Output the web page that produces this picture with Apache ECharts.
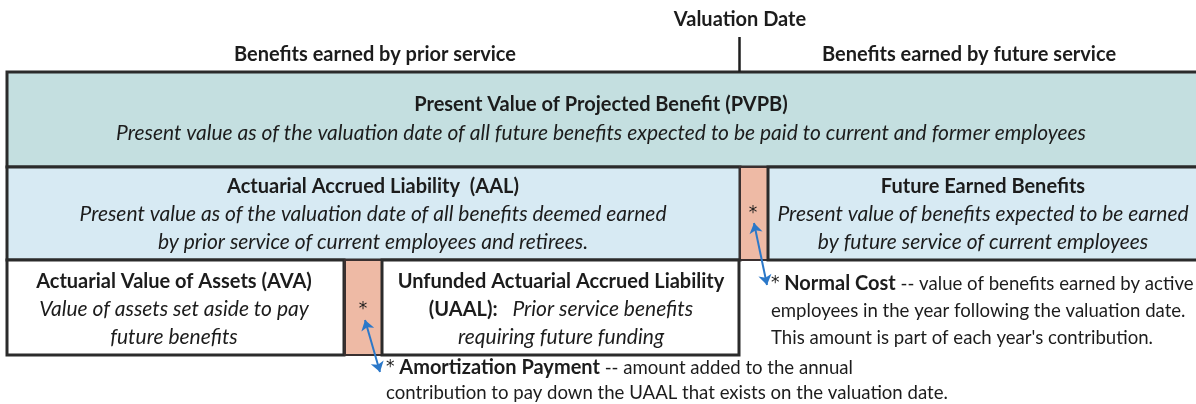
<!DOCTYPE html>
<html>
<head>
<meta charset="utf-8">
<script src="https://cdn.jsdelivr.net/npm/echarts@6/dist/echarts.min.js"></script>
<style>
  html, body { margin: 0; padding: 0; background: #fff; }
  #chart { width: 1196px; height: 404px; }
</style>
</head>
<body>
<div id="chart"></div>
<script>
// text of the diagram, one entry per line
const headerLines = ['Valuation Date', 'Benefits earned by prior service', 'Benefits earned by future service']
const pvpbLines = ['{b|Present Value of Projected Benefit (PVPB)}',
    '{i|Present value as of the valuation date of all future benefits expected to be paid to current and former employees}']
const aalLines = ['{b|Actuarial Accrued Liability  (AAL)}',
    '{i|Present value as of the valuation date of all benefits deemed earned}',
    '{i|by prior service of current employees and retirees.}']
const futureLines = ['{b|Future Earned Benefits}',
    '{i|Present value of benefits expected to be earned}',
    '{i|by future service of current employees}']
const avaLines = ['{b|Actuarial Value of Assets (AVA)}',
    '{i|Value of assets set aside to pay}',
    '{i|future benefits}']
const uaalLines = ['{b|Unfunded Actuarial Accrued Liability}',
    '{b|(UAAL):}{i|   Prior service benefits}',
    '{i|requiring future funding}']
const normalCostLines = ['{s|*}{r| }{b|Normal Cost}{r| -- value of benefits earned by active}',
    '{r|employees in the year following the valuation date.}',
    '{r|This amount is part of each year\'s contribution.}']
const amortLines = ['{s|*}{r| }{b|Amortization Payment}{r| -- amount added to the annual}',
    '{r|contribution to pay down the UAAL that exists on the valuation date.}']
const starMarks = ['{s|*}', '{s|*}']

// layout (plot units = pixels of the 1196 x 404 canvas)
const boxes = [
    // x0, y0, x1, y1, kind
    [7, 72, 1204, 167, 0],
    [7, 167, 740, 260, 1],
    [740, 167, 768, 260, 2],
    [768, 167, 1204, 260, 1],
    [7, 260, 344, 355, 3],
    [345, 260, 382, 355, 2],
    [382, 260, 739, 355, 3]
]
const boxFill = ['#c4dfe0', '#d7eaf3', '#eebaa5', '#ffffff']

const textRows = []
function place(lines, x, y0, step, align) {
    lines.forEach(function (s, i) { textRows.push({ s: s, x: x, y: y0 + i * step, align: align }) })
}
place(['{b|' + headerLines[0] + '}'], 740, 20, 0, 'center')
place(['{b|' + headerLines[1] + '}'], 375, 55, 0, 'center')
place(['{b|' + headerLines[2] + '}'], 969, 55, 0, 'center')
place(pvpbLines, 601, 105, 28, 'center')
place(aalLines, 373, 187, 27.5, 'center')
place(futureLines, 983, 187, 27.5, 'center')
place([starMarks[0]], 753, 214, 0, 'center')
place(avaLines, 174, 282, 27.5, 'center')
place([starMarks[1]], 363, 310, 0, 'center')
place(uaalLines, 561, 282, 27.5, 'center')
place(normalCostLines, 771, 284, 27, 'left')
place(amortLines, 386, 368, 25, 'left')

const arrows = [
    [[754, 223], [767, 285]],
    [[365, 320], [380, 372]]
]
const dateLine = [[739, 37], [739, 72]]

const FONT = 'Lato'
const rich = {
    b: { fontFamily: FONT, fontWeight: 'bold', fontSize: 20, fill: '#1c1c1c' },
    i: { fontFamily: FONT, fontStyle: 'italic', fontSize: 21, fill: '#1c1c1c' },
    r: { fontFamily: FONT, fontSize: 18.6, fill: '#1c1c1c' },
    s: { fontFamily: 'DejaVu Sans', fontSize: 17, fill: '#1c1c1c' }
}

const chart = echarts.init(document.getElementById('chart'))
chart.setOption({
    animation: false,
    grid: { left: 0, right: 0, top: 0, bottom: 0 },
    xAxis: { type: 'value', min: 0, max: 1196, show: false },
    yAxis: { type: 'value', min: 0, max: 404, inverse: true, show: false },
    series: [
        {
            type: 'custom',
            clip: true,
            data: boxes,
            renderItem: function (params, api) {
                const a = api.coord([api.value(0), api.value(1)])
                const b = api.coord([api.value(2), api.value(3)])
                const kind = api.value(4)
                return {
                    type: 'rect',
                    shape: { x: a[0], y: a[1], width: b[0] - a[0], height: b[1] - a[1] },
                    style: {
                        fill: boxFill[kind],
                        stroke: kind === 2 ? '#3a3030' : '#2b2b2b',
                        lineWidth: kind === 2 ? 2 : 3
                    }
                }
            }
        },
        {
            type: 'lines',
            coordinateSystem: 'cartesian2d',
            symbol: ['none', 'none'],
            lineStyle: { color: '#1e1e1e', width: 2.5, opacity: 1 },
            data: [{ coords: dateLine }]
        },
        {
            type: 'custom',
            data: textRows.map(function (r) { return [r.x, r.y] }),
            renderItem: function (params, api) {
                const p = api.coord([api.value(0), api.value(1)])
                const r = textRows[params.dataIndex]
                return {
                    type: 'text',
                    x: p[0],
                    y: p[1],
                    style: {
                        text: r.s,
                        rich: rich,
                        align: r.align,
                        verticalAlign: 'middle',
                        fontFamily: FONT,
                        fontSize: 18
                    }
                }
            }
        },
        {
            type: 'lines',
            coordinateSystem: 'cartesian2d',
            symbol: ['arrow', 'arrow'],
            symbolSize: 10,
            lineStyle: { color: '#2b78c9', width: 2, opacity: 1 },
            itemStyle: { color: '#2b78c9' },
            data: arrows.map(function (c) { return { coords: c } })
        }
    ]
})
</script>
</body>
</html>
